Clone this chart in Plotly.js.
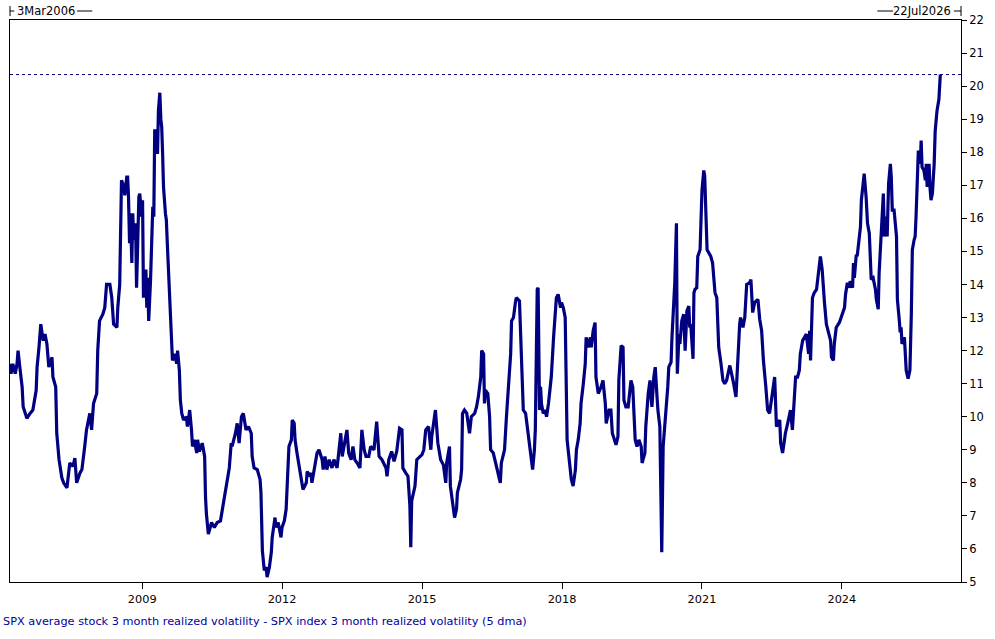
<!DOCTYPE html>
<html>
<head>
<meta charset="utf-8">
<script src="https://cdn.plot.ly/plotly-3.0.1.min.js"></script>
<style>
html,body{margin:0;padding:0;background:#fff;}
#chart{width:995px;height:639px;}
</style>
</head>
<body>
<div id="chart"></div>
<script>
// Decimal-year dates of the series
const years = [
2006.17,2006.19,2006.23,2006.28,2006.32,2006.34,2006.38,2006.43,2006.45,2006.53,2006.60,2006.66,2006.73,2006.75,2006.79,2006.83,2006.88,2006.92,2006.96,2007.00,
2007.07,2007.09,2007.15,2007.17,2007.22,2007.28,2007.32,2007.39,2007.45,2007.52,2007.56,2007.60,2007.67,2007.71,2007.77,2007.81,2007.88,2007.92,2007.96,2008.03,
2008.05,2008.09,2008.16,2008.20,2008.24,2008.31,2008.35,2008.39,2008.46,2008.48,2008.52,2008.54,2008.56,2008.61,2008.63,2008.67,2008.69,2008.71,2008.73,2008.75,
2008.78,2008.80,2008.82,2008.86,2008.88,2008.90,2008.93,2008.95,2008.99,2009.01,2009.03,2009.08,2009.10,2009.12,2009.14,2009.18,2009.20,2009.23,2009.25,2009.27,
2009.31,2009.33,2009.35,2009.38,2009.40,2009.42,2009.44,2009.46,2009.50,2009.52,2009.55,2009.57,2009.59,2009.61,2009.63,2009.65,2009.70,2009.74,2009.76,2009.80,
2009.82,2009.85,2009.89,2009.95,2009.97,2010.02,2010.06,2010.08,2010.12,2010.17,2010.19,2010.23,2010.29,2010.34,2010.36,2010.38,2010.42,2010.49,2010.55,2010.61,
2010.68,2010.72,2010.79,2010.83,2010.87,2010.91,2010.93,2011.00,2011.04,2011.08,2011.13,2011.17,2011.23,2011.28,2011.34,2011.36,2011.40,2011.47,2011.53,2011.55,
2011.58,2011.62,2011.66,2011.68,2011.73,2011.77,2011.79,2011.85,2011.87,2011.92,2011.98,2012.00,2012.05,2012.09,2012.11,2012.15,2012.20,2012.22,2012.26,2012.28,
2012.32,2012.37,2012.41,2012.45,2012.52,2012.54,2012.58,2012.62,2012.64,2012.69,2012.75,2012.79,2012.86,2012.88,2012.92,2012.96,2013.01,2013.07,2013.11,2013.18,
2013.26,2013.29,2013.35,2013.39,2013.43,2013.48,2013.52,2013.56,2013.61,2013.67,2013.71,2013.76,2013.80,2013.86,2013.90,2013.97,2014.03,2014.08,2014.14,2014.23,
2014.25,2014.29,2014.35,2014.40,2014.46,2014.48,2014.52,2014.57,2014.59,2014.65,2014.70,2014.74,2014.76,2014.78,2014.85,2014.89,2014.95,2015.00,2015.04,2015.08,
2015.14,2015.19,2015.21,2015.25,2015.29,2015.34,2015.40,2015.46,2015.51,2015.53,2015.59,2015.61,2015.66,2015.70,2015.74,2015.76,2015.83,2015.85,2015.87,2015.91,
2015.96,2016.02,2016.06,2016.13,2016.17,2016.21,2016.26,2016.28,2016.32,2016.34,2016.36,2016.41,2016.45,2016.47,2016.53,2016.58,2016.62,2016.68,2016.70,2016.77,
2016.81,2016.85,2016.90,2016.92,2016.96,2017.00,2017.02,2017.09,2017.11,2017.13,2017.17,2017.22,2017.26,2017.30,2017.35,2017.37,2017.41,2017.43,2017.47,2017.49,
2017.52,2017.54,2017.56,2017.60,2017.64,2017.67,2017.71,2017.75,2017.77,2017.82,2017.86,2017.88,2017.92,2017.97,2017.99,2018.03,2018.07,2018.09,2018.11,2018.14,
2018.18,2018.20,2018.24,2018.29,2018.31,2018.35,2018.39,2018.41,2018.46,2018.50,2018.52,2018.56,2018.61,2018.63,2018.67,2018.71,2018.73,2018.78,2018.84,2018.88,
2018.93,2018.95,2019.01,2019.05,2019.08,2019.14,2019.16,2019.20,2019.22,2019.27,2019.31,2019.33,2019.37,2019.42,2019.46,2019.48,2019.52,2019.55,2019.57,2019.61,
2019.65,2019.70,2019.72,2019.78,2019.80,2019.85,2019.89,2019.91,2019.93,2019.97,2020.00,2020.04,2020.06,2020.10,2020.12,2020.14,2020.17,2020.21,2020.23,2020.27,
2020.29,2020.34,2020.36,2020.38,2020.40,2020.42,2020.455,2020.475,2020.51,2020.53,2020.57,2020.61,2020.64,2020.68,2020.72,2020.74,2020.76,2020.81,2020.83,2020.85,
2020.89,2020.91,2020.96,2020.98,2021.00,2021.04,2021.06,2021.11,2021.15,2021.19,2021.23,2021.28,2021.32,2021.36,2021.41,2021.45,2021.49,2021.53,2021.60,2021.64,
2021.68,2021.73,2021.77,2021.81,2021.83,2021.88,2021.92,2021.96,2022.02,2022.05,2022.09,2022.13,2022.20,2022.24,2022.28,2022.32,2022.37,2022.41,2022.45,2022.50,
2022.54,2022.56,2022.60,2022.67,2022.69,2022.73,2022.77,2022.79,2022.84,2022.88,2022.90,2022.94,2022.99,2023.01,2023.05,2023.09,2023.11,2023.16,2023.20,2023.24,
2023.29,2023.31,2023.33,2023.35,2023.37,2023.41,2023.46,2023.50,2023.52,2023.54,2023.58,2023.61,2023.63,2023.67,2023.71,2023.76,2023.78,2023.82,2023.84,2023.88,
2023.95,2023.99,2024.06,2024.08,2024.12,2024.16,2024.18,2024.23,2024.25,2024.27,2024.31,2024.33,2024.38,2024.40,2024.42,2024.46,2024.48,2024.52,2024.55,2024.59,
2024.61,2024.63,2024.67,2024.72,2024.74,2024.78,2024.80,2024.82,2024.85,2024.87,2024.89,2024.91,2024.95,2024.97,2025.00,2025.04,2025.06,2025.08,2025.12,2025.17,
2025.19,2025.23,2025.25,2025.27,2025.29,2025.34,2025.36,2025.38,2025.42,2025.46,2025.49,2025.51,2025.55,2025.57,2025.59,2025.61,2025.64,2025.68,2025.70,2025.72,
2025.76,2025.79,2025.81,2025.83,2025.87,2025.89,2025.91,2025.94,2025.96,2025.98,2026.00,2026.04,2026.08,2026.11
];
// Average stock 3m realized vol minus index 3m realized vol (5 dma)
const spread = [
11.6,11.3,11.6,11.3,11.6,12.0,11.5,10.9,10.3,9.95,10.1,10.2,10.8,11.5,12.1,12.8,12.3,12.5,12.2,11.5,
11.8,11.2,10.9,9.5,8.7,8.15,8.0,7.85,8.6,8.5,8.75,8.0,8.3,8.4,9.1,9.6,10.1,9.6,10.4,10.7,
12.0,12.9,13.1,13.3,14.0,14.0,13.6,12.8,12.7,13.3,14.0,16.5,17.15,16.95,16.7,17.25,17.25,16.65,15.25,16.15,
14.65,16.15,15.35,15.85,13.9,14.95,16.65,16.75,16.05,16.55,13.6,14.45,13.3,14.2,12.9,14.1,15.1,16.35,16.05,18.65,
18.65,17.95,19.25,19.8,19.0,18.75,17.95,16.95,16.15,15.95,14.95,14.2,13.9,12.9,12.3,11.7,11.9,11.6,12.0,11.4,
10.5,10.1,9.9,10.0,9.7,10.2,9.6,9.1,9.3,8.9,9.3,8.95,9.2,8.8,7.55,7.05,6.45,6.8,6.65,6.8,
6.85,7.2,7.85,8.15,8.45,9.2,9.1,9.5,9.8,9.2,10.0,10.1,9.6,9.7,9.5,8.8,8.45,8.4,8.1,7.7,
5.95,5.35,5.45,5.15,5.45,5.9,6.35,6.95,6.65,6.8,6.35,6.65,6.85,7.2,7.9,9.1,9.3,9.9,9.8,9.3,
8.9,8.45,8.0,7.8,8.0,8.35,8.2,8.3,8.0,8.45,8.9,9.0,8.7,8.4,8.8,8.4,8.7,8.45,8.7,8.45,
9.5,8.8,9.3,9.6,8.9,8.7,9.1,8.7,8.6,8.45,9.6,9.0,8.8,8.8,9.1,9.0,9.85,8.8,8.7,8.45,
8.2,8.7,8.95,8.65,8.95,9.3,9.65,9.6,8.45,8.3,8.2,7.3,6.05,7.45,7.9,8.7,8.8,8.85,9.0,9.6,
9.7,9.0,9.4,9.9,10.2,9.2,8.7,8.55,8.0,8.6,9.1,7.9,7.3,6.95,7.2,7.7,8.1,8.4,10.1,10.2,
10.1,9.5,10.0,10.1,10.3,10.6,11.2,12.0,11.9,10.4,10.8,10.7,10.0,9.0,8.9,8.6,8.4,8.0,8.6,9.0,
10.0,11.0,11.9,12.9,13.0,13.45,13.6,13.5,12.4,11.4,10.2,10.1,9.7,9.2,8.6,8.4,9.0,9.6,13.85,13.9,
10.2,10.9,10.4,10.1,10.2,10.0,10.4,10.8,11.2,12.4,13.2,13.6,13.7,13.3,13.45,13.3,13.0,10.4,9.3,8.9,
8.4,8.1,7.9,8.4,9.0,9.3,9.8,10.4,11.0,11.6,12.4,12.1,12.4,12.1,12.6,12.85,11.2,10.7,10.9,11.1,
10.4,9.8,10.2,10.2,9.5,9.2,9.15,9.4,11.1,12.15,12.1,10.5,10.3,10.3,10.9,11.1,10.9,10.0,9.3,9.1,
9.3,9.1,8.6,8.9,9.7,10.7,11.1,10.6,10.3,11.2,11.5,10.6,10.2,9.7,7.9,5.9,9.1,9.7,10.3,10.9,
11.5,11.65,12.4,13.0,13.3,14.05,15.85,11.3,12.5,12.2,12.9,13.1,12.0,13.2,13.35,12.7,12.8,11.75,13.75,13.85,
13.9,14.85,15.05,15.95,16.85,17.45,17.3,15.05,14.95,14.85,14.65,13.75,13.6,12.1,11.6,11.1,11.0,11.1,11.55,11.3,
11.0,10.6,12.0,12.8,13.0,12.7,13.0,14.0,14.05,14.15,13.15,13.45,13.55,12.95,12.6,11.7,10.9,10.2,10.1,10.6,
11.1,11.2,9.7,9.9,9.2,8.9,9.3,9.5,9.8,10.1,10.2,9.6,10.6,11.2,11.2,11.4,11.9,12.3,12.4,12.5,
11.9,12.6,11.7,12.9,13.6,13.75,13.85,14.35,14.65,14.85,14.45,13.55,13.45,12.8,12.6,12.3,11.8,11.7,12.2,12.7,
12.85,13.0,13.3,13.7,14.05,13.9,14.1,13.9,14.65,14.2,14.9,14.85,15.45,15.75,16.55,17.15,17.35,16.65,15.85,15.55,
14.75,14.15,14.2,13.85,13.55,13.25,14.35,15.05,15.75,16.45,16.75,15.45,16.05,15.45,17.05,17.65,17.25,16.25,16.25,15.45,
13.55,12.95,12.55,12.7,12.2,12.4,11.8,11.4,11.15,11.4,13.1,15.05,15.35,15.45,16.05,16.95,18.05,17.65,18.35,17.55,
17.45,17.15,17.65,16.95,17.65,16.95,16.55,16.75,17.15,17.65,18.65,19.25,19.6,20.35
];
const xTickYears = [2009, 2012, 2015, 2018, 2021, 2024];
const yTicks = [5,6,7,8,9,10,11,12,13,14,15,16,17,18,19,20,21,22];
const rangeStart = '2006-03-03';
const rangeEnd = '2026-07-22';
const startLabel = '3Mar2006';
const endLabel = '22Jul2026';
const seriesLabel = 'SPX average stock 3 month realized volatility - SPX index 3 month realized volatility (5 dma)';

function decYearToISO(y) {
  const yr = Math.floor(y);
  const s = Date.UTC(yr, 0, 1), e = Date.UTC(yr + 1, 0, 1);
  return new Date(s + (y - yr) * (e - s)).toISOString().slice(0, 10);
}
const dates = years.map(decYearToISO);
const lastVal = spread[spread.length - 1];

const NAVY = '#000080';
const FONT = 'DejaVu Sans, Verdana, sans-serif';

const trace = {
  x: dates, y: spread, type: 'scatter', mode: 'lines',
  line: {color: NAVY, width: 3.2}, hoverinfo: 'skip'
};

const topY = 1.016;
const shapes = [
  {type:'line', xref:'paper', yref:'y', x0:0, x1:1, y0:lastVal, y1:lastVal,
   line:{color:NAVY, width:1, dash:'dot'}},
  // left range marker
  {type:'line', xref:'paper', yref:'paper', x0:0, x1:0, y0:topY-0.009, y1:topY+0.009, line:{color:'#000', width:1}},
  {type:'line', xref:'paper', yref:'paper', x0:0, x1:0.0045, y0:topY, y1:topY, line:{color:'#000', width:1}},
  {type:'line', xref:'paper', yref:'paper', x0:0.0705, x1:0.0865, y0:topY, y1:topY, line:{color:'#000', width:1}},
  // right range marker
  {type:'line', xref:'paper', yref:'paper', x0:1, x1:1, y0:topY-0.009, y1:topY+0.009, line:{color:'#000', width:1}},
  {type:'line', xref:'paper', yref:'paper', x0:0.9925, x1:1, y0:topY, y1:topY, line:{color:'#000', width:1}},
  {type:'line', xref:'paper', yref:'paper', x0:0.912, x1:0.9285, y0:topY, y1:topY, line:{color:'#000', width:1}}
];

const annotations = [
  {xref:'paper', yref:'paper', x:0.005, y:topY, xanchor:'left', yanchor:'middle', showarrow:false,
   text:startLabel, font:{family:FONT, size:11.5, color:'#000'}},
  {xref:'paper', yref:'paper', x:0.992, y:topY, xanchor:'right', yanchor:'middle', showarrow:false,
   text:endLabel, font:{family:FONT, size:11.5, color:'#000'}},
  {xref:'paper', yref:'paper', x:-0.0095, y:-0.071, xanchor:'left', yanchor:'middle', showarrow:false,
   text:seriesLabel, font:{family:FONT, size:11.3, color:'#0000A0'}}
];

const layout = {
  width: 995, height: 639,
  margin: {l: 10, r: 34, t: 20, b: 57, pad: 0},
  paper_bgcolor: '#fff', plot_bgcolor: '#fff',
  showlegend: false,
  font: {family: FONT, size: 11, color: '#000'},
  xaxis: {
    type: 'date', range: [rangeStart, rangeEnd],
    tickvals: xTickYears.map(y => y + '-01-01'),
    ticktext: xTickYears.map(String),
    ticks: 'outside', ticklen: 6, tickcolor: '#000', tickwidth: 1,
    showgrid: false, zeroline: false,
    showline: true, linecolor: '#000', linewidth: 1, mirror: true,
    tickfont: {family: FONT, size: 11.3, color: '#000'}
  },
  yaxis: {
    side: 'right', range: [5, 22],
    tickvals: yTicks, ticktext: yTicks.map(String),
    ticks: 'outside', ticklen: 5, tickcolor: '#000', tickwidth: 1,
    showgrid: false, zeroline: false,
    showline: true, linecolor: '#000', linewidth: 1, mirror: true,
    tickfont: {family: FONT, size: 11.5, color: '#000'}
  },
  shapes: shapes,
  annotations: annotations
};

Plotly.newPlot('chart', [trace], layout, {staticPlot: true, displayModeBar: false});
</script>
</body>
</html>
